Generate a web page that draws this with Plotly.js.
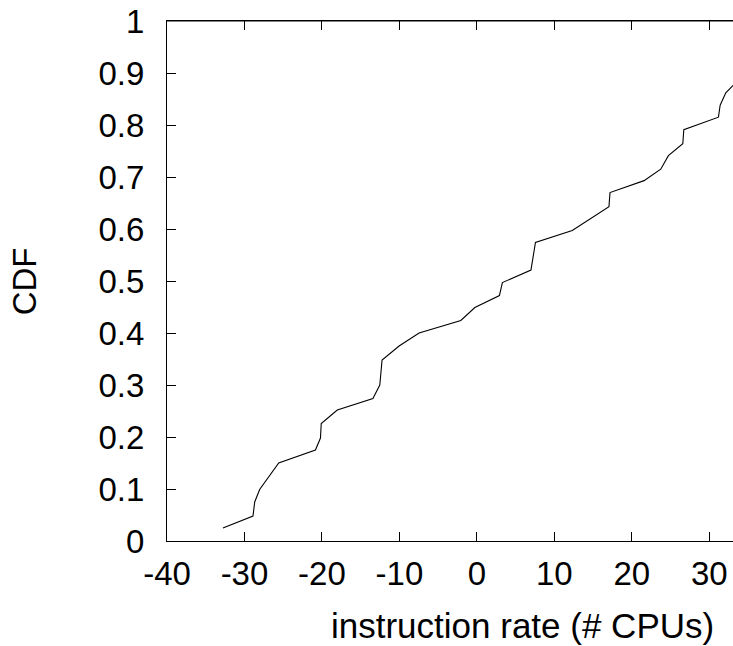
<!DOCTYPE html>
<html>
<head>
<meta charset="utf-8">
<script src="https://cdn.plot.ly/plotly-3.0.1.min.js"></script>
<style>html,body{margin:0;padding:0;background:#fff;}#chart{width:733px;height:646px;}</style>
</head>
<body>
<div id="chart"></div>
<script>
// Instruction rate (# CPUs) values and their CDF
const rateValues = [-32.78, -28.90, -28.68, -28.04, -25.58, -20.84, -20.19, -20.09, -18.02, -13.42,
  -12.53, -12.24, -10.04, -7.46, -2.07, -0.26, 2.91, 3.29, 6.98, 7.56,
  12.31, 17.05, 17.18, 21.58, 23.73, 24.72, 26.58, 26.71, 31.18, 31.40,
  32.13, 33.07, 34.0];
const cdfValues = [0.025, 0.048, 0.075, 0.099, 0.150, 0.175, 0.198, 0.226, 0.252, 0.274,
  0.300, 0.348, 0.375, 0.400, 0.424, 0.449, 0.472, 0.497, 0.521, 0.574,
  0.597, 0.643, 0.670, 0.693, 0.715, 0.741, 0.764, 0.791, 0.815, 0.838,
  0.862, 0.876, 0.890];

const xTickVals = [-40, -30, -20, -10, 0, 10, 20, 30];
const xTickText = ['-40', '-30', '-20', '-10', '0', '10', '20', '30'];
const yTickVals = [0, 0.1, 0.2, 0.3, 0.4, 0.5, 0.6, 0.7, 0.8, 0.9, 1];
const yTickText = ['0', '0.1', '0.2', '0.3', '0.4', '0.5', '0.6', '0.7', '0.8', '0.9', '1'];

const xLabel = 'instruction rate (# CPUs)';
const yLabel = 'CDF';

const font = {family: 'Liberation Sans, Arial, sans-serif', size: 33, color: '#000'};
const titleFont = {family: 'Liberation Sans, Arial, sans-serif', size: 35, color: '#000'};

const trace = {
  x: rateValues, y: cdfValues, type: 'scatter', mode: 'lines',
  line: {color: '#000', width: 1.1}, hoverinfo: 'skip', cliponaxis: true
};

const layout = {
  width: 733, height: 646,
  margin: {l: 167, r: 0, t: 21, b: 105, pad: 0},
  paper_bgcolor: '#fff', plot_bgcolor: '#fff',
  showlegend: false,
  font: font,
  xaxis: {
    range: [-40, 33.06], tickvals: xTickVals, ticktext: xTickText,
    ticks: 'inside', ticklen: 9, tickwidth: 1, tickcolor: '#000',
    showline: true, linecolor: '#000', linewidth: 1, mirror: 'ticks',
    showgrid: false, zeroline: false, tickfont: font, ticklabelstandoff: 3
  },
  yaxis: {
    range: [0, 1], tickvals: yTickVals, ticktext: yTickText,
    ticks: 'inside', ticklen: 9, tickwidth: 1, tickcolor: '#000',
    showline: true, linecolor: '#000', linewidth: 1, mirror: false,
    showgrid: false, zeroline: false, tickfont: font, ticklabelstandoff: 15
  },
  shapes: [{type: 'line', xref: 'paper', yref: 'paper', x0: 0, x1: 1, y0: 1, y1: 1,
    line: {color: '#000', width: 1}}],
  annotations: [
    {text: xLabel, xref: 'paper', yref: 'paper', x: 0.6274, y: -0.163,
     xanchor: 'center', yanchor: 'middle', showarrow: false, font: titleFont},
    {text: yLabel, xref: 'paper', yref: 'paper', x: -0.252, y: 0.5, textangle: -90,
     xanchor: 'center', yanchor: 'middle', showarrow: false, font: font}
  ]
};

Plotly.newPlot('chart', [trace], layout, {displayModeBar: false, staticPlot: true});
</script>
</body>
</html>
